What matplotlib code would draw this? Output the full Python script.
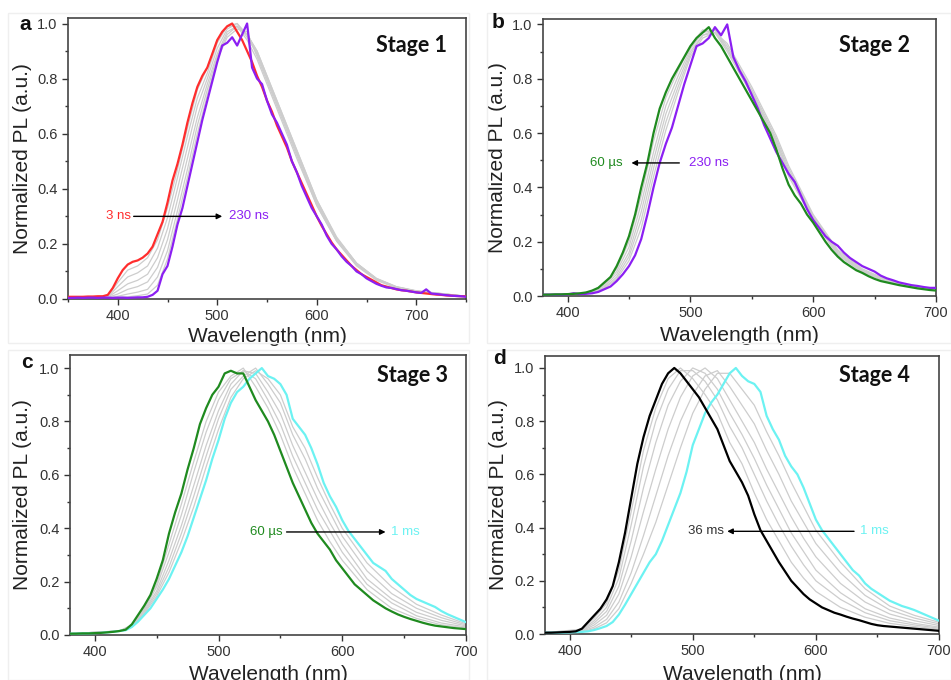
import numpy as np
import matplotlib
matplotlib.use("Agg")
import matplotlib.pyplot as plt
from matplotlib.patches import Rectangle
from matplotlib.ticker import MultipleLocator

plt.rcParams['font.family'] = ['Liberation Sans', 'DejaVu Sans']

# ---------------- data ----------------
# Panel a (Stage 1)
wl_a = np.arange(350, 751, 5)
red_3ns = [0.008, 0.008, 0.008, 0.008, 0.009, 0.009, 0.010, 0.010, 0.015, 0.04,
           0.075, 0.105, 0.125, 0.135, 0.14, 0.15, 0.165, 0.19, 0.235, 0.28,
           0.35, 0.43, 0.49, 0.56, 0.64, 0.71, 0.77, 0.81, 0.84, 0.89,
           0.94, 0.97, 0.99, 1.0, 0.97, 0.94, 0.90, 0.86, 0.81, 0.77,
           0.72, 0.68, 0.63, 0.59, 0.55, 0.50, 0.46, 0.42, 0.38, 0.34,
           0.30, 0.265, 0.235, 0.205, 0.18, 0.16, 0.14, 0.12, 0.105, 0.09,
           0.08, 0.07, 0.06, 0.05, 0.045, 0.04, 0.035, 0.032, 0.03, 0.027,
           0.024, 0.022, 0.02, 0.018, 0.016, 0.015, 0.013, 0.012, 0.011, 0.01, 0.01]
purple_230ns_a = [0.004, 0.004, 0.005, 0.004, 0.005, 0.005, 0.004, 0.005, 0.005, 0.004,
                  0.005, 0.005, 0.004, 0.005, 0.006, 0.006, 0.008, 0.015, 0.03, 0.09,
                  0.12, 0.19, 0.27, 0.33, 0.41, 0.49, 0.57, 0.65, 0.72, 0.79,
                  0.86, 0.92, 0.93, 0.95, 0.92, 0.96, 1.0, 0.84, 0.80, 0.78,
                  0.72, 0.67, 0.64, 0.60, 0.56, 0.50, 0.46, 0.41, 0.37, 0.33,
                  0.30, 0.27, 0.23, 0.20, 0.18, 0.155, 0.135, 0.12, 0.10, 0.09,
                  0.075, 0.065, 0.055, 0.048, 0.042, 0.04, 0.036, 0.032, 0.03, 0.027,
                  0.024, 0.022, 0.035, 0.02, 0.018, 0.016, 0.014, 0.012, 0.011, 0.01, 0.008]
gwl_a = [380, 390, 400, 410, 420, 430, 440, 450, 460, 470, 480, 490, 500, 510,
         520, 530, 540, 550, 560, 570, 580, 600, 620, 640, 660, 680, 700, 750]
gray_a = [
    [0.008, 0.01, 0.06, 0.105, 0.12, 0.15, 0.215, 0.33, 0.47, 0.62, 0.76, 0.84, 0.94, 0.99,
     0.99, 0.94, 0.87, 0.78, 0.69, 0.60, 0.51, 0.34, 0.21, 0.125, 0.07, 0.042, 0.028, 0.01],
    [0.007, 0.008, 0.045, 0.08, 0.095, 0.12, 0.185, 0.295, 0.44, 0.59, 0.73, 0.82, 0.93, 0.99,
     1.0, 0.95, 0.89, 0.80, 0.71, 0.62, 0.53, 0.35, 0.22, 0.13, 0.073, 0.044, 0.029, 0.01],
    [0.006, 0.007, 0.03, 0.055, 0.068, 0.09, 0.15, 0.255, 0.40, 0.55, 0.70, 0.80, 0.91, 0.98,
     1.0, 0.96, 0.90, 0.81, 0.72, 0.63, 0.54, 0.36, 0.225, 0.13, 0.075, 0.045, 0.03, 0.01],
    [0.005, 0.006, 0.018, 0.035, 0.045, 0.062, 0.115, 0.215, 0.36, 0.51, 0.66, 0.78, 0.89, 0.97,
     0.99, 0.96, 0.90, 0.81, 0.72, 0.63, 0.54, 0.36, 0.22, 0.13, 0.074, 0.044, 0.029, 0.01],
    [0.005, 0.005, 0.01, 0.018, 0.025, 0.035, 0.08, 0.175, 0.32, 0.47, 0.63, 0.76, 0.88, 0.96,
     0.99, 0.96, 0.89, 0.80, 0.71, 0.62, 0.53, 0.35, 0.215, 0.125, 0.07, 0.042, 0.028, 0.01],
    [0.005, 0.005, 0.006, 0.008, 0.012, 0.018, 0.05, 0.145, 0.29, 0.44, 0.60, 0.74, 0.87, 0.95,
     0.98, 0.97, 0.88, 0.79, 0.70, 0.61, 0.52, 0.34, 0.21, 0.12, 0.068, 0.04, 0.027, 0.01],
]

# Panel b (Stage 2)
wl_b = np.arange(380, 701, 5)
green_60us_b = [0.005, 0.005, 0.006, 0.006, 0.007, 0.008, 0.01, 0.013,
                0.02, 0.03, 0.05, 0.07, 0.11, 0.16, 0.22, 0.30, 0.40, 0.49,
                0.60, 0.69, 0.75, 0.80, 0.84, 0.88, 0.92, 0.95, 0.97, 0.99,
                0.95, 0.92, 0.88, 0.84, 0.80, 0.76, 0.72, 0.68, 0.64, 0.60,
                0.54, 0.47, 0.41, 0.37, 0.34, 0.30, 0.27, 0.235, 0.20, 0.17,
                0.145, 0.125, 0.11, 0.095, 0.085, 0.073, 0.063, 0.055, 0.05, 0.045,
                0.04, 0.036, 0.032, 0.028, 0.025, 0.022, 0.02]
purple_230ns_b = [0.005, 0.005, 0.005, 0.005, 0.006, 0.01, 0.007, 0.008,
                  0.01, 0.015, 0.025, 0.035, 0.055, 0.08, 0.11, 0.15, 0.21, 0.30,
                  0.40, 0.49, 0.56, 0.62, 0.70, 0.78, 0.85, 0.92, 0.93, 0.95,
                  0.99, 0.96, 1.0, 0.88, 0.83, 0.79, 0.74, 0.69, 0.63, 0.58,
                  0.53, 0.49, 0.45, 0.42, 0.37, 0.32, 0.28, 0.25, 0.22, 0.20,
                  0.185, 0.16, 0.14, 0.125, 0.11, 0.10, 0.09, 0.075, 0.065, 0.058,
                  0.05, 0.045, 0.04, 0.037, 0.033, 0.03, 0.03]
gwl_b = [380, 410, 420, 430, 440, 450, 460, 470, 480, 490, 500, 510, 520, 530,
         540, 550, 560, 570, 580, 600, 620, 640, 660, 680, 700]
gray_b = [
    [0.005, 0.009, 0.018, 0.045, 0.10, 0.20, 0.37, 0.57, 0.73, 0.83, 0.92, 0.98, 0.97, 0.90,
     0.82, 0.74, 0.65, 0.56, 0.44, 0.28, 0.15, 0.088, 0.052, 0.033, 0.021],
    [0.005, 0.008, 0.016, 0.04, 0.09, 0.18, 0.34, 0.53, 0.70, 0.81, 0.91, 0.97, 0.98, 0.91,
     0.83, 0.75, 0.66, 0.57, 0.45, 0.285, 0.155, 0.09, 0.054, 0.034, 0.022],
    [0.005, 0.008, 0.014, 0.035, 0.08, 0.16, 0.31, 0.50, 0.67, 0.79, 0.90, 0.96, 0.97, 0.91,
     0.83, 0.75, 0.66, 0.57, 0.46, 0.29, 0.16, 0.093, 0.056, 0.035, 0.023],
    [0.005, 0.007, 0.013, 0.03, 0.07, 0.145, 0.28, 0.47, 0.64, 0.77, 0.89, 0.96, 0.98, 0.92,
     0.84, 0.76, 0.67, 0.58, 0.47, 0.295, 0.165, 0.096, 0.058, 0.036, 0.024],
    [0.005, 0.007, 0.012, 0.028, 0.062, 0.13, 0.25, 0.44, 0.61, 0.75, 0.88, 0.95, 0.97, 0.93,
     0.85, 0.77, 0.68, 0.59, 0.48, 0.30, 0.17, 0.10, 0.06, 0.037, 0.025],
]

# Panel c (Stage 3)
wl_c = np.arange(380, 701, 5)
green_60us_c = [0.005, 0.005, 0.006, 0.006, 0.007, 0.008, 0.01, 0.012, 0.015,
                0.02, 0.04, 0.075, 0.11, 0.15, 0.21, 0.28, 0.38, 0.46, 0.53,
                0.62, 0.70, 0.79, 0.85, 0.90, 0.93, 0.98, 0.99, 0.98, 0.98,
                0.93, 0.88, 0.84, 0.80, 0.75, 0.69, 0.63, 0.57, 0.52, 0.47,
                0.42, 0.38, 0.35, 0.32, 0.28, 0.25, 0.22, 0.19, 0.17, 0.15,
                0.13, 0.115, 0.10, 0.088, 0.077, 0.068, 0.06, 0.053, 0.046, 0.04,
                0.035, 0.032, 0.029, 0.026, 0.024, 0.022]
cyan_1ms_c = [0.005, 0.005, 0.006, 0.006, 0.007, 0.008, 0.01, 0.012, 0.015,
              0.018, 0.03, 0.05, 0.075, 0.10, 0.135, 0.17, 0.21, 0.26, 0.31,
              0.37, 0.44, 0.51, 0.58, 0.66, 0.73, 0.81, 0.87, 0.91, 0.93,
              0.96, 0.98, 1.0, 0.97, 0.96, 0.94, 0.90, 0.81, 0.78, 0.75,
              0.70, 0.64, 0.57, 0.52, 0.48, 0.43, 0.39, 0.36, 0.33, 0.30,
              0.27, 0.255, 0.24, 0.21, 0.19, 0.17, 0.15, 0.135, 0.125, 0.115,
              0.105, 0.09, 0.078, 0.068, 0.058, 0.048]
gwl_c = [380, 420, 430, 440, 450, 460, 470, 480, 490, 500, 510, 520, 530, 540,
         550, 560, 570, 580, 590, 600, 620, 640, 660, 680, 700]
gray_c = [
    [0.005, 0.015, 0.038, 0.10, 0.19, 0.34, 0.49, 0.65, 0.80, 0.91, 0.97, 1.0, 0.93, 0.85,
     0.75, 0.63, 0.53, 0.43, 0.35, 0.28, 0.17, 0.10, 0.062, 0.038, 0.026],
    [0.005, 0.015, 0.036, 0.095, 0.18, 0.31, 0.45, 0.61, 0.76, 0.88, 0.96, 0.99, 0.96, 0.88,
     0.79, 0.67, 0.57, 0.47, 0.39, 0.31, 0.19, 0.12, 0.072, 0.045, 0.03],
    [0.005, 0.015, 0.034, 0.09, 0.165, 0.28, 0.41, 0.56, 0.71, 0.84, 0.94, 0.99, 0.98, 0.91,
     0.83, 0.71, 0.61, 0.51, 0.42, 0.34, 0.21, 0.135, 0.085, 0.055, 0.034],
    [0.005, 0.015, 0.032, 0.085, 0.155, 0.255, 0.38, 0.52, 0.67, 0.81, 0.92, 0.97, 1.0, 0.94,
     0.87, 0.75, 0.66, 0.55, 0.46, 0.37, 0.24, 0.155, 0.10, 0.065, 0.038],
    [0.005, 0.015, 0.031, 0.08, 0.145, 0.235, 0.35, 0.48, 0.63, 0.77, 0.89, 0.96, 0.99, 0.96,
     0.90, 0.78, 0.70, 0.59, 0.49, 0.40, 0.27, 0.18, 0.115, 0.075, 0.042],
]

# Panel d (Stage 4)
wl_d = np.arange(380, 701, 5)
black_36ms_d = [0.005, 0.005, 0.006, 0.007, 0.008, 0.01, 0.02, 0.045, 0.07, 0.095,
                0.13, 0.18, 0.27, 0.38, 0.51, 0.64, 0.74, 0.82, 0.88, 0.94,
                0.98, 1.0, 0.98, 0.95, 0.92, 0.89, 0.85, 0.81, 0.77, 0.71,
                0.65, 0.61, 0.57, 0.52, 0.45, 0.39, 0.35, 0.31, 0.27, 0.235,
                0.20, 0.175, 0.15, 0.13, 0.115, 0.10, 0.09, 0.08, 0.073, 0.065,
                0.058, 0.052, 0.045, 0.038, 0.033, 0.03, 0.028, 0.026, 0.024, 0.022,
                0.02, 0.018, 0.016, 0.014, 0.012]
cyan_1ms_d = [0.005, 0.005, 0.005, 0.005, 0.006, 0.007, 0.008, 0.01, 0.015, 0.022,
              0.03, 0.045, 0.073, 0.11, 0.15, 0.19, 0.23, 0.27, 0.30, 0.35,
              0.41, 0.47, 0.53, 0.61, 0.71, 0.77, 0.83, 0.87, 0.90, 0.94,
              0.98, 1.0, 0.97, 0.95, 0.94, 0.91, 0.82, 0.77, 0.73, 0.67,
              0.63, 0.60, 0.55, 0.49, 0.43, 0.39, 0.36, 0.33, 0.30, 0.27,
              0.24, 0.22, 0.19, 0.17, 0.155, 0.14, 0.125, 0.115, 0.105, 0.098,
              0.09, 0.08, 0.07, 0.06, 0.05]
gwl_d = [380, 410, 420, 430, 440, 450, 460, 470, 480, 490, 500, 510, 520, 530,
         540, 550, 560, 570, 580, 590, 600, 620, 640, 660, 680, 700]
gray_d = [
    [0.005, 0.018, 0.06, 0.115, 0.24, 0.46, 0.69, 0.85, 0.96, 1.0, 0.96, 0.90, 0.83, 0.72,
     0.64, 0.53, 0.43, 0.35, 0.27, 0.21, 0.16, 0.10, 0.063, 0.04, 0.028, 0.018],
    [0.005, 0.016, 0.05, 0.10, 0.21, 0.41, 0.63, 0.80, 0.92, 0.99, 0.99, 0.95, 0.88, 0.78,
     0.70, 0.60, 0.50, 0.41, 0.33, 0.26, 0.20, 0.13, 0.08, 0.05, 0.034, 0.022],
    [0.005, 0.014, 0.042, 0.085, 0.18, 0.35, 0.55, 0.72, 0.86, 0.95, 1.0, 0.98, 0.92, 0.83,
     0.75, 0.66, 0.56, 0.47, 0.38, 0.31, 0.24, 0.155, 0.095, 0.06, 0.04, 0.026],
    [0.005, 0.012, 0.034, 0.07, 0.15, 0.29, 0.46, 0.62, 0.77, 0.89, 0.97, 1.0, 0.96, 0.88,
     0.80, 0.72, 0.62, 0.53, 0.44, 0.36, 0.29, 0.19, 0.12, 0.075, 0.05, 0.032],
    [0.005, 0.01, 0.026, 0.055, 0.12, 0.23, 0.37, 0.52, 0.67, 0.80, 0.90, 0.97, 0.99, 0.93,
     0.86, 0.79, 0.69, 0.60, 0.50, 0.42, 0.34, 0.23, 0.145, 0.09, 0.06, 0.038],
    [0.005, 0.009, 0.02, 0.042, 0.095, 0.19, 0.30, 0.42, 0.56, 0.70, 0.83, 0.92, 0.98, 0.98,
     0.92, 0.86, 0.76, 0.67, 0.57, 0.48, 0.39, 0.27, 0.17, 0.105, 0.07, 0.044],
]

panel_letters = ['a', 'b', 'c', 'd']
stage_titles = ['Stage 1', 'Stage 2', 'Stage 3', 'Stage 4']
x_ticks_a = [400, 500, 600, 700]
x_ticks_bcd = [400, 500, 600, 700]
y_ticks = [0.0, 0.2, 0.4, 0.6, 0.8, 1.0]

# ---------------- style ----------------
RED = '#ff2d2d'
PURPLE = '#8b1ff2'
GREEN = '#1f8a1f'
CYAN = '#6cf2f2'
BLACK = '#000000'
GRAY = '#cdcdcd'
TXT = '#333333'

W, H = 951, 680
fig = plt.figure(figsize=(W / 100, H / 100), dpi=100)
fig.patch.set_facecolor('white')


def px_axes(l, t, r, b):
    return [l / W, 1 - b / H, (r - l) / W, (b - t) / H]


# faint panel frames + white cover for lower half
for (l, t, r, b) in [(8, 13, 469, 343), (487, 13, 951, 343)]:
    fig.patches.append(Rectangle((l / W, 1 - b / H), (r - l) / W, (b - t) / H,
                                 transform=fig.transFigure, fill=False,
                                 edgecolor='#efefef', lw=1, zorder=0.5))
for (l, t, r, b) in [(8, 350, 469, 680), (487, 350, 951, 680)]:
    fig.patches.append(Rectangle((l / W, 1 - b / H), (r - l) / W, (b - t) / H,
                                 transform=fig.transFigure, facecolor='white',
                                 edgecolor='#efefef', lw=1, zorder=1))

axes_px = [(68, 18, 466, 299), (543, 19, 936, 296), (70, 355, 466, 635), (545, 356, 939, 634)]
xlims = [(350, 750), (380, 700), (380, 700), (380, 700)]
ylims = [(0, 1.02), (0, 1.02), (0, 1.049), (0, 1.045)]
ylab_x = [-0.090, -0.092, -0.096, -0.094]
xlab_y = [-0.099, -0.109, -0.107, -0.112]

axs = []
for i, (l, t, r, b) in enumerate(axes_px):
    ax = fig.add_axes(px_axes(l, t, r, b))
    ax.set_zorder(0 if i < 2 else 2)
    ax.set_xlim(*xlims[i])
    ax.set_ylim(*ylims[i])
    ax.set_xticks(x_ticks_a if i == 0 else x_ticks_bcd)
    ax.set_yticks(y_ticks)
    ax.xaxis.set_minor_locator(MultipleLocator(50))
    ax.yaxis.set_minor_locator(MultipleLocator(0.1))
    ax.yaxis.set_major_formatter(matplotlib.ticker.FormatStrFormatter('%.1f'))
    ax.tick_params(which='major', direction='out', length=4.5, width=1.0,
                   color='#333333', labelsize=10.5, labelcolor=TXT, pad=3)
    ax.tick_params(which='minor', direction='out', length=2.5, width=1.0, color='#333333')
    ax.tick_params(top=False, right=False)
    for s in ax.spines.values():
        s.set_color('#444444')
        s.set_linewidth(1.2)
    ax.set_ylabel('Normalized PL (a.u.)', fontsize=15, color='#222222')
    ax.yaxis.set_label_coords(ylab_x[i], 0.5)
    ax.set_xlabel('Wavelength (nm)', fontsize=15, color='#222222')
    ax.xaxis.set_label_coords(0.5, xlab_y[i])
    axs.append(ax)

lw_main = 1.6
lw_gray = 0.9

# Panel a
ax = axs[0]
for g in gray_a:
    ax.plot(gwl_a, g, color=GRAY, lw=lw_gray, zorder=1)
ax.plot(wl_a, red_3ns, color=RED, lw=lw_main, zorder=3)
ax.plot(wl_a, purple_230ns_a, color=PURPLE, lw=lw_main, zorder=4)

# Panel b
ax = axs[1]
for g in gray_b:
    ax.plot(gwl_b, g, color=GRAY, lw=lw_gray, zorder=1)
ax.plot(wl_b, purple_230ns_b, color=PURPLE, lw=lw_main, zorder=3)
ax.plot(wl_b, green_60us_b, color=GREEN, lw=lw_main, zorder=4)

# Panel c
ax = axs[2]
for g in gray_c:
    ax.plot(gwl_c, g, color=GRAY, lw=lw_gray, zorder=1)
ax.plot(wl_c, cyan_1ms_c, color=CYAN, lw=lw_main, zorder=3)
ax.plot(wl_c, green_60us_c, color=GREEN, lw=lw_main, zorder=4)

# Panel d
ax = axs[3]
for g in gray_d:
    ax.plot(gwl_d, g, color=GRAY, lw=lw_gray, zorder=1)
ax.plot(wl_d, cyan_1ms_d, color=CYAN, lw=lw_main, zorder=3)
ax.plot(wl_d, black_36ms_d, color=BLACK, lw=lw_main, zorder=4)

# annotations
ann_fs = 9.5
arrow_kw = dict(arrowstyle='-|>', color='black', lw=1.0, mutation_scale=8, shrinkA=0, shrinkB=0)


def arrow_label(ax, y, x_left_txt, txt_left, c_left, x_from, x_to, x_right_txt, txt_right, c_right):
    ax.text(x_left_txt, y, txt_left, color=c_left, fontsize=ann_fs, ha='right', va='center', zorder=6)
    ax.annotate('', xy=(x_to, y), xytext=(x_from, y), arrowprops=arrow_kw, zorder=6)
    ax.text(x_right_txt, y, txt_right, color=c_right, fontsize=ann_fs, ha='left', va='center', zorder=6)


arrow_label(axs[0], 0.30, 413, '3 ns', RED, 416, 505, 512, '230 ns', PURPLE)
arrow_label(axs[1], 0.49, 445, '60 µs', GREEN, 491, 452, 499, '230 ns', PURPLE)
arrow_label(axs[2], 0.386, 552, '60 µs', GREEN, 555, 635, 639, '1 ms', CYAN)
arrow_label(axs[3], 0.386, 525, '36 ms', '#333333', 631, 528, 636, '1 ms', CYAN)

# panel letters and stage titles
letter_pos = [(25, 24), (498, 23), (27, 363), (500, 358)]
stage_pos = [(447, 45), (910, 45), (448, 375), (910, 375)]
for i in range(4):
    lx, ly = letter_pos[i]
    fig.text(lx / W, 1 - ly / H, panel_letters[i], fontsize=15, fontweight='bold',
             ha='center', va='center', color='#111111', zorder=5)
    sx, sy = stage_pos[i]
    fig.text(sx / W, 1 - sy / H, stage_titles[i], fontsize=15.5, fontweight='bold',
             family=['Lato', 'DejaVu Sans'], ha='right', va='center', color='#111111', zorder=5)

fig.savefig('out.png', dpi=100)
